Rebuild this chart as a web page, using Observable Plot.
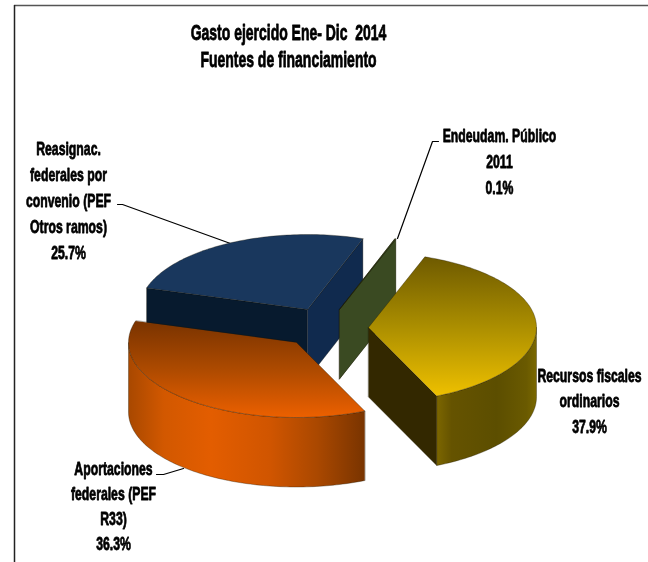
<!DOCTYPE html>
<html>
<head>
<meta charset="utf-8">
<script src="https://cdn.jsdelivr.net/npm/d3@7"></script>
<script src="https://cdn.jsdelivr.net/npm/@observablehq/plot@0.6"></script>
<style>
html,body{margin:0;padding:0;background:#fff}
svg{display:block;filter:blur(0.35px)}
</style>
</head>
<body>
<div id="chart"></div>
<script>
// Data
const titleLines = ["Gasto ejercido Ene- Dic  2014", "Fuentes de financiamiento"];
const categories = ["Recursos fiscales ordinarios", "Aportaciones federales (PEF R33)", "Reasignac. federales por convenio (PEF Otros ramos)", "Endeudam. Público 2011"];
const shares = [37.9, 36.3, 25.7, 0.1];
const labelLines = [
  ["Recursos fiscales", "ordinarios", "37.9%"],
  ["Aportaciones", "federales (PEF", "R33)", "36.3%"],
  ["Reasignac.", "federales por", "convenio (PEF", "Otros ramos)", "25.7%"],
  ["Endeudam. Público", "2011", "0.1%"]
];

// Layout of the 3D pie
const firstAngle = 19.6 * Math.PI / 180;
const rx = 168, ry = 75, depth = 69.5;
const hubs = [[368, 327], [296, 342], [307, 309], [339, 309]];
const labelAnchors = [[589, 375, 25.5], [113, 468, 25.3], [68, 148, 26], [499, 135, 26]];
const leaders = [
  [[117, 204], [122, 204], [230, 243]],
  [[156, 474], [163, 474], [183, 468]],
  [[438, 141], [432, 141], [397, 238]]
];
const drawOrder = [2, 3, 0, 1];
const looks = [
  {top: "url(#yTop)", side: "url(#ySide)", startCut: null, endCut: "#332800"},
  {top: "url(#oTop)", side: "url(#oSide)", startCut: null, endCut: null},
  {top: "#19375d", side: null, startCut: "#071a2e", endCut: "#102a4e"},
  {top: "#3a4a22", side: null, startCut: "#3a4a22", endCut: "#3a4a22"}
];
const gradients = [
  {id: "yTop", vertical: true, stops: [[0, "#6e5a00"], [0.5, "#ab8e00"], [1, "#eec000"]]},
  {id: "ySide", vertical: false, stops: [[0, "#7c6600"], [0.15, "#655300"], [0.6, "#5c4e00"], [0.9, "#6a5a00"], [1, "#7a6800"]]},
  {id: "oTop", vertical: true, stops: [[0, "#793300"], [0.5, "#ad4a00"], [1, "#ec6000"]]},
  {id: "oSide", vertical: false, stops: [[0, "#a84800"], [0.15, "#d25800"], [0.35, "#e35d00"], [0.6, "#d05500"], [0.8, "#aa4800"], [1, "#793400"]]}
];

const pie = d3.pie().sort(null).startAngle(firstAngle).endAngle(firstAngle + 2 * Math.PI)(shares);
const at = (hub, a, z = 0) => ({x: hub[0] + rx * Math.sin(a), y: hub[1] - ry * Math.cos(a) + z});
const arc = (hub, a0, a1, z = 0) => {
  const n = Math.max(2, Math.ceil(Math.abs(a1 - a0) / 0.02));
  return d3.range(n + 1).map(i => at(hub, a0 + (a1 - a0) * i / n, z));
};
const face = (points, fill, edge = "#1a1200") =>
  Plot.line(points, {x: "x", y: "y", fill, stroke: edge, strokeWidth: 0.6, strokeOpacity: 0.55, curve: "linear-closed"});

const sliceMarks = drawOrder.flatMap(i => {
  const s = pie[i], hub = hubs[i], look = looks[i], out = [];
  const base = {x: hub[0], y: hub[1]}, low = {x: hub[0], y: hub[1] + depth};
  if (look.startCut) out.push(face([base, at(hub, s.startAngle), at(hub, s.startAngle, depth), low], look.startCut));
  if (look.endCut) out.push(face([base, at(hub, s.endAngle), at(hub, s.endAngle, depth), low], look.endCut));
  if (look.side) {
    const a0 = Math.max(s.startAngle, Math.PI / 2), a1 = Math.min(s.endAngle, 3 * Math.PI / 2);
    out.push(face([...arc(hub, a0, a1), ...arc(hub, a1, a0, depth)], look.side));
  }
  out.push(face([base, ...arc(hub, s.startAngle, s.endAngle)], look.top));
  return out;
});

const textRows = labelLines.flatMap((lines, i) =>
  lines.map((t, k) => ({t, x: labelAnchors[i][0], y: labelAnchors[i][1] + k * labelAnchors[i][2]})));
const titleRows = titleLines.map((t, k) => ({t, x: 288, y: 32 + k * 27}));
const textStyle = {x: "x", y: "y", text: "t", fontFamily: "'Liberation Sans', sans-serif", fontWeight: "bold", fill: "#000", stroke: "#000", strokeWidth: 0.8, lineAnchor: "middle"};

const chart = Plot.plot({
  width: 648, height: 562, margin: 0,
  x: {domain: [0, 648], range: [0, 648], axis: null},
  y: {domain: [0, 562], range: [0, 562], axis: null},
  style: {background: "#fff"},
  marks: [
    () => {
      const defs = d3.create("svg:defs");
      gradients.forEach(g => {
        const lg = defs.append("linearGradient").attr("id", g.id)
          .attr("x1", 0).attr("y1", 0).attr("x2", g.vertical ? 0 : 1).attr("y2", g.vertical ? 1 : 0);
        g.stops.forEach(([o, c]) => lg.append("stop").attr("offset", o).attr("stop-color", c));
      });
      return defs.node();
    },
    Plot.ruleY([5], {x1: 14, x2: 648, stroke: "#555", strokeWidth: 1.5}),
    Plot.ruleX([14], {y1: 5, y2: 562, stroke: "#222", strokeWidth: 1.5}),
    ...leaders.map(l => Plot.line(l, {x: d => d[0], y: d => d[1], stroke: "#000", strokeWidth: 1.2})),
    ...sliceMarks,
    Plot.text(titleRows, {...textStyle, fontSize: 22, className: "narrow-title"}),
    Plot.text(textRows, {...textStyle, fontSize: 19, className: "narrow-label"})
  ]
});
document.getElementById("chart").append(chart);
// Condense the glyphs: the reference's lettering is horizontally squeezed.
const squeeze = (sel, k) => d3.select(chart).selectAll(sel).each(function () {
  const n = this.getComputedTextLength();
  this.setAttribute("textLength", n * k);
  this.setAttribute("lengthAdjust", "spacingAndGlyphs");
});
squeeze(".narrow-title text", 0.635);
squeeze(".narrow-label text", 0.645);
</script>
</body>
</html>
